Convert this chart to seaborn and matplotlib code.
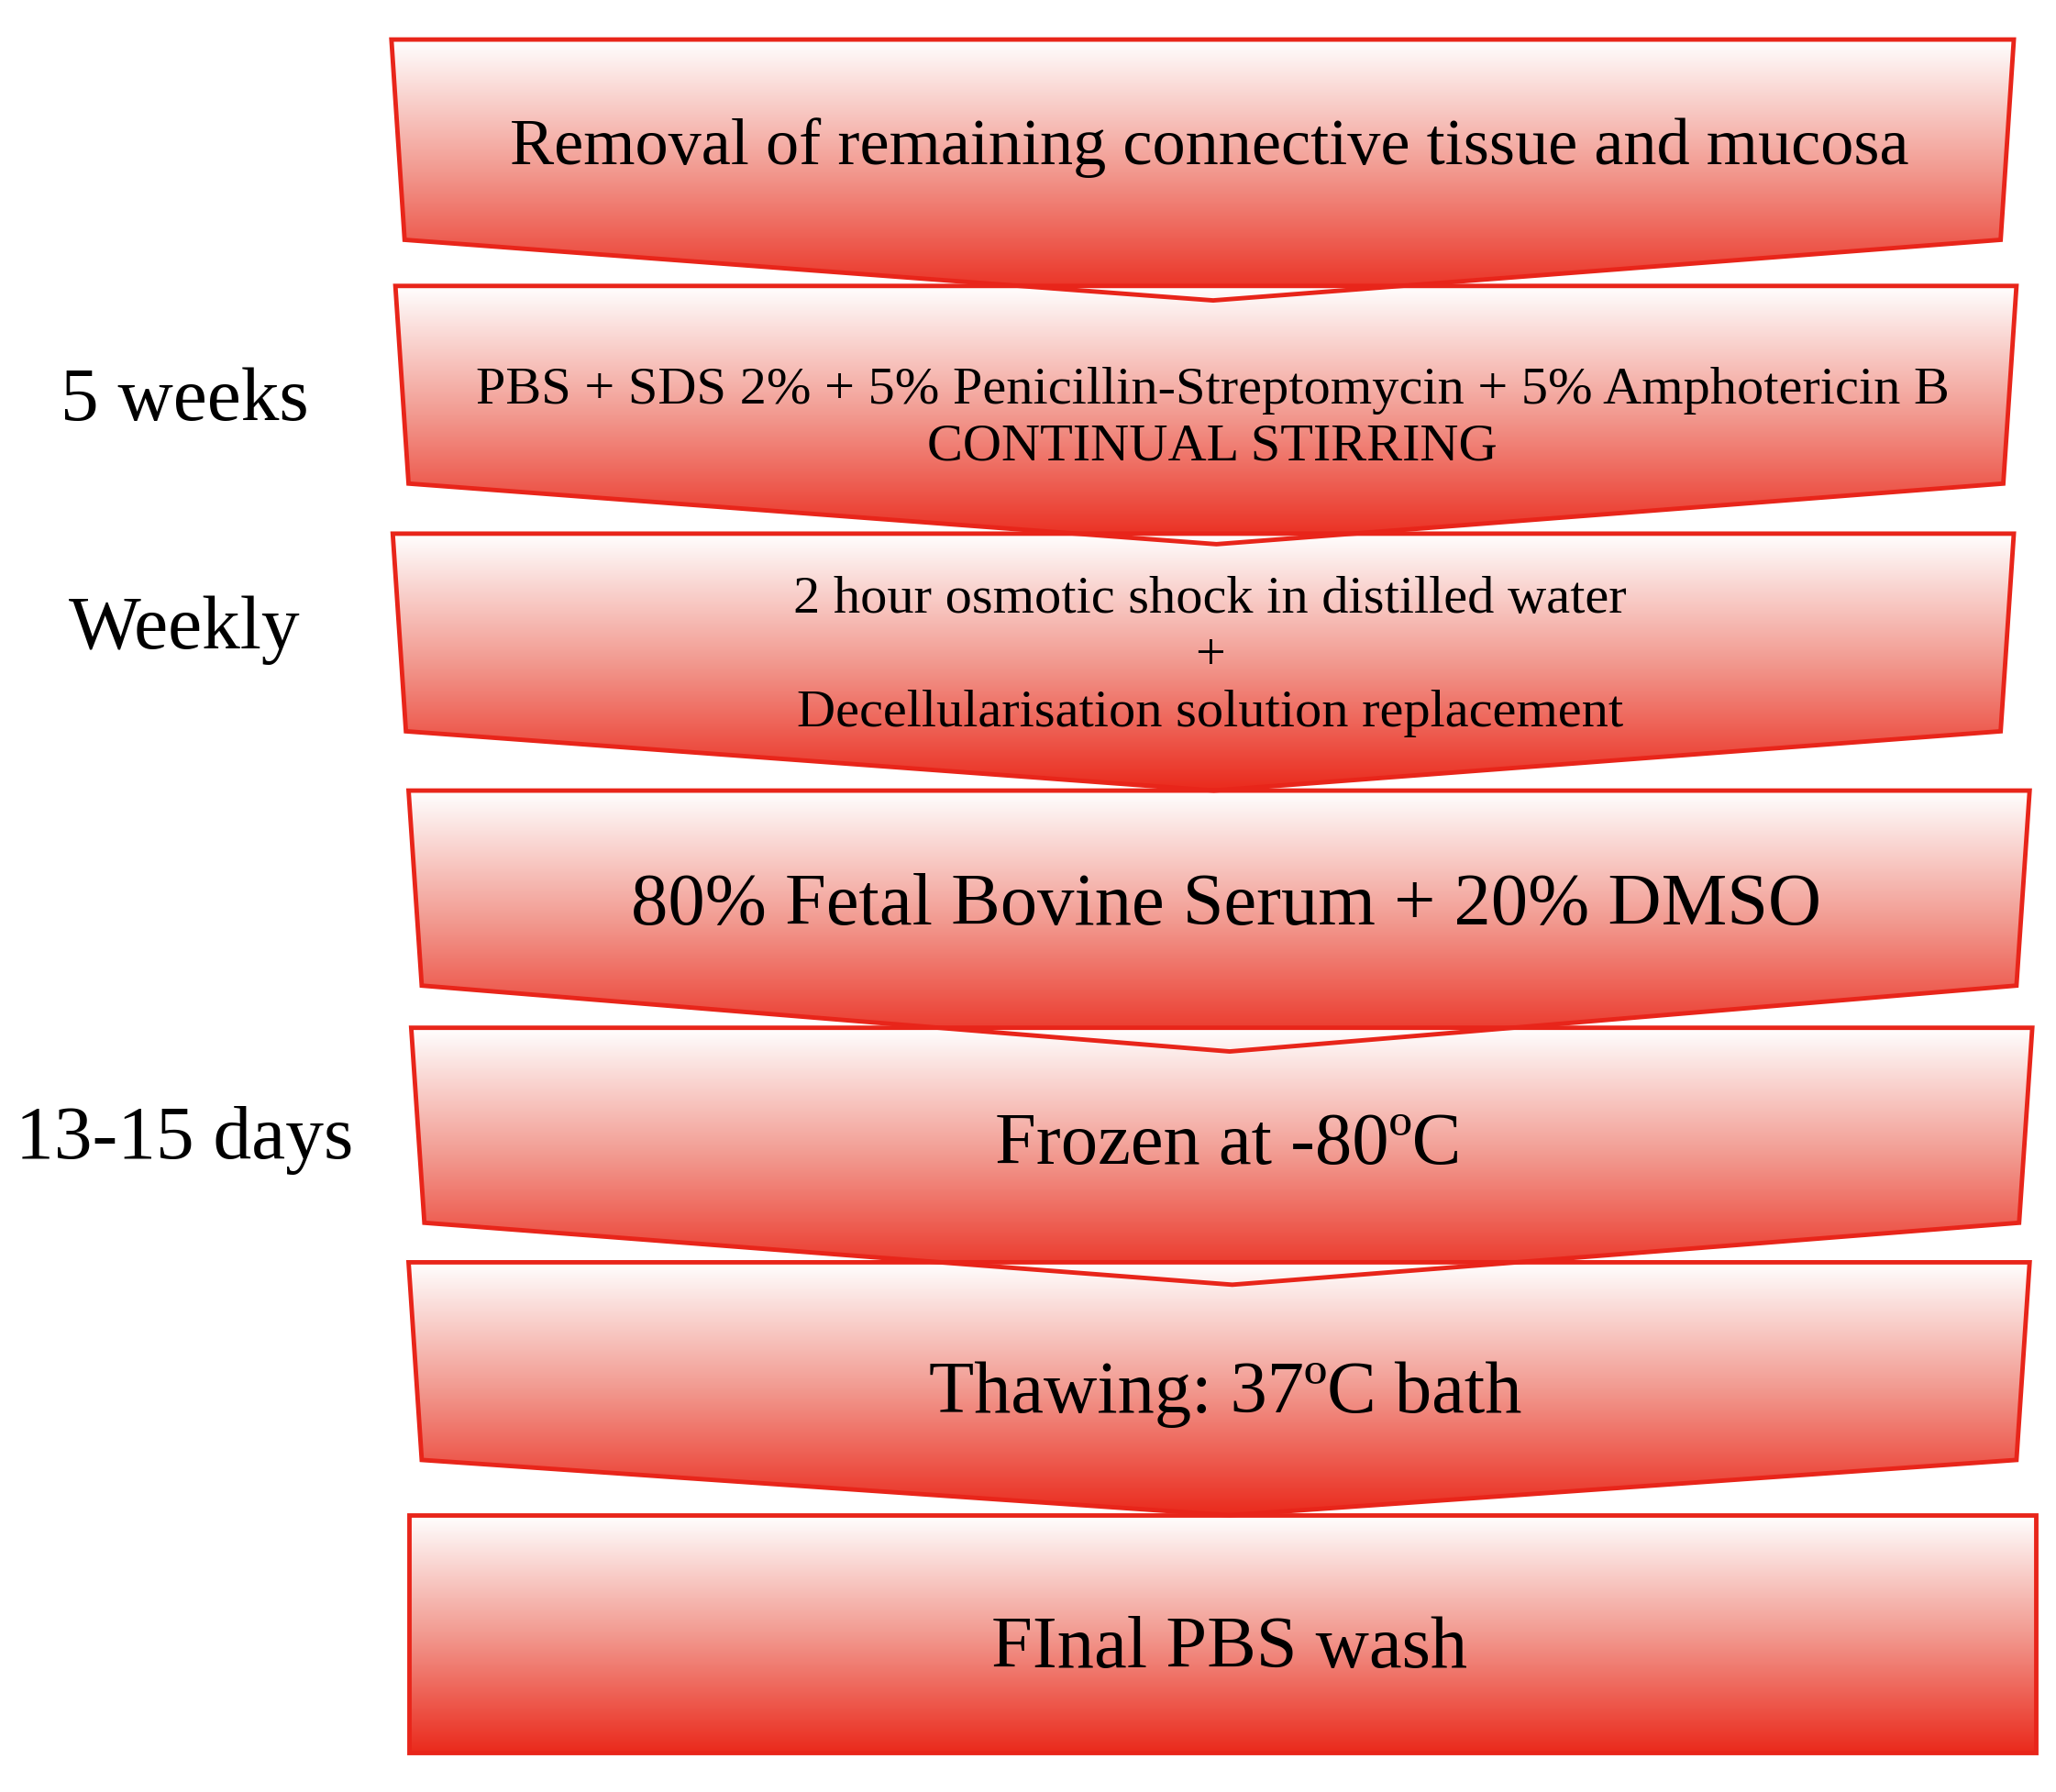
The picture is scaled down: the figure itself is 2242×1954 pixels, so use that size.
import numpy as np
import matplotlib
matplotlib.use("Agg")
import matplotlib.pyplot as plt
import seaborn as sns
from matplotlib.patches import Polygon

sns.set_theme(style="white")
plt.rcParams['font.family'] = ['Liberation Serif', 'DejaVu Serif']

steps = [
    "Removal of remaining connective tissue and mucosa",
    "PBS + SDS 2% + 5% Penicillin-Streptomycin + 5% Amphotericin B\nCONTINUAL STIRRING",
    "2 hour osmotic shock in distilled water\n+\nDecellularisation solution replacement",
    "80% Fetal Bovine Serum + 20% DMSO",
    "Frozen at -80ºC",
    "Thawing: 37ºC bath",
    "FInal PBS wash",
]
step_sizes = [52, 42, 42, 58, 58, 58, 58]
side_labels = ["5 weeks", "Weekly", "13-15 days"]
side_y = [305, 478, 865]

tops = [30, 217, 405, 600, 780, 958, 1150]
lefts = [297, 300, 298, 310, 312, 310, 310]
rights = [1528, 1530, 1528, 1540, 1542, 1540, 1545]
sides = [182, 367, 555, 748, 928, 1108, 1330]
tips = [228, 413, 600, 798, 975, 1150, 1330]
text_y = [112, 318, 498, 688, 870, 1058, 1252]

fig = plt.figure(figsize=(22.42, 19.54), dpi=100)
ax = fig.add_axes([0, 0, 1, 1])
ax.set_xlim(0, 1560)
ax.set_ylim(1360, 0)
ax.axis("off")

grad = np.linspace(0, 1, 256)[:, None]
cmap = matplotlib.colors.LinearSegmentedColormap.from_list("g", ["#ffffff", "#f29a90", "#ea2a1c"])
for i in range(len(steps)):
    l, r, t, s, tp = lefts[i], rights[i], tops[i], sides[i], tips[i]
    mid = (l + r) / 2 + 8
    if tp > s:
        pts = [(l, t), (r, t), (r - 10, s), (mid, tp), (l + 10, s)]
    else:
        pts = [(l, t), (r, t), (r, s), (l, s)]
    poly = Polygon(pts, closed=True, facecolor="none", edgecolor="#e8251a", lw=3.5, zorder=3)
    ax.add_patch(poly)
    im = ax.imshow(grad, cmap=cmap, aspect="auto", extent=[l, r, max(tp, s), t], zorder=2)
    im.set_clip_path(poly)
    ax.text((l + r) / 2 + 5, text_y[i], steps[i], ha="center", va="center",
            fontsize=step_sizes[i], color="black", zorder=4, linespacing=1.25)

for lab, y in zip(side_labels, side_y):
    ax.text(140, y, lab, ha="center", va="center", fontsize=60, color="black")

fig.savefig("out.png", dpi=100)
